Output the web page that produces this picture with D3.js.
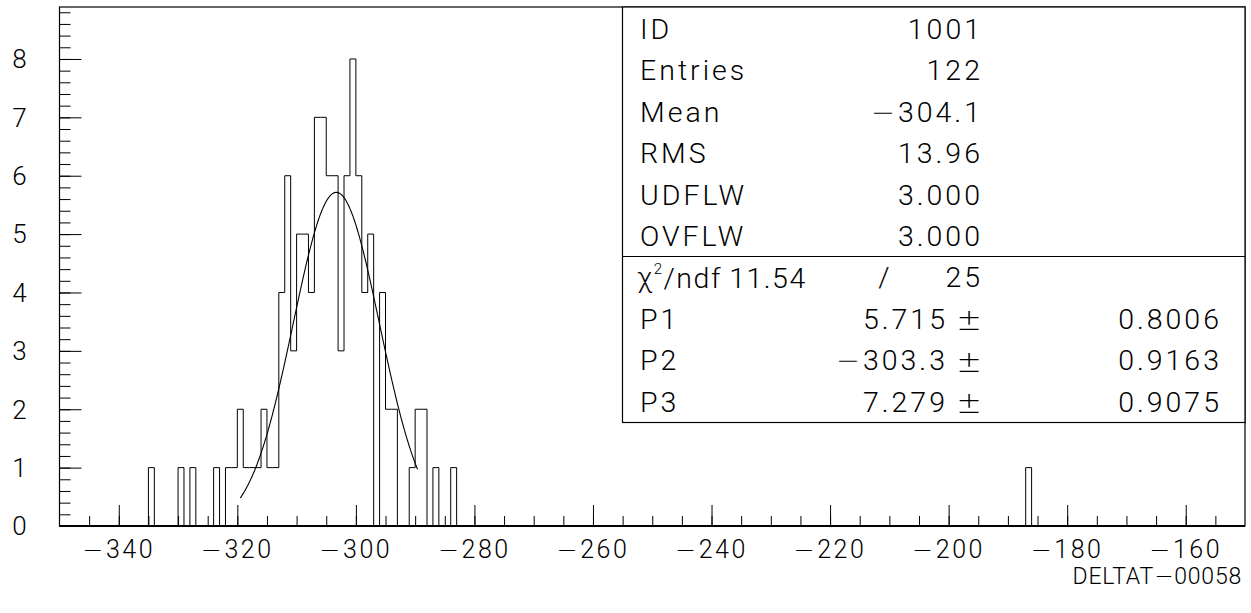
<!DOCTYPE html>
<html>
<head>
<meta charset="utf-8">
<script src="https://cdn.jsdelivr.net/npm/d3@7"></script>
<style>
  html, body { margin: 0; padding: 0; background: #fff; }
  svg { display: block; }
  text { font-family: "Roboto", "DejaVu Sans", sans-serif; font-weight: 300; fill: #000; }
  tspan.minus, text.pm { font-family: "DejaVu Sans", sans-serif; font-weight: 200; }
</style>
</head>
<body>
<svg id="chart" width="1251" height="613"></svg>
<script>
// ---- Data ----
const xDomain = [-350, -150];
const yDomain = [0, 8.89];
const binWidth = 1;
// lower edges of non-empty bins and their contents
const binStarts = [-335, -330, -328, -324, -322, -321, -320, -319, -318, -317, -316, -315, -314,
  -313, -312, -311, -310, -309, -308, -307, -306, -305, -304, -303, -302, -301, -300, -299, -298,
  -296, -295, -294, -291, -290, -289, -287, -284, -187];
const binCounts = [1, 1, 1, 1, 1, 1, 2, 1, 1, 1, 2, 1, 1,
  4, 6, 3, 5, 5, 4, 7, 7, 6, 6, 3, 6, 8, 6, 4, 5,
  4, 2, 2, 1, 2, 2, 1, 1, 1];
const xTickLabels = [-340, -320, -300, -280, -260, -240, -220, -200, -180, -160];
const yTickLabels = [0, 1, 2, 3, 4, 5, 6, 7, 8];
// fit parameters (gaussian) and fit range
const fitParams = { P1: 5.715, P2: -303.3, P3: 7.279 };
const fitRange = [-319.5, -289.6];
// statistics box
const statLabels = ["ID", "Entries", "Mean", "RMS", "UDFLW", "OVFLW"];
const statValues = ["1001", "122", "\u2212304.1", "13.96", "3.000", "3.000"];
const chiValue = "11.54";
const ndfValue = "25";
const parLabels = ["P1", "P2", "P3"];
const parValues = ["5.715", "\u2212303.3", "7.279"];
const parErrors = ["0.8006", "0.9163", "0.9075"];
const xTitle = "DELTAT\u221200058";

// ---- Layout ----
const L = 59.5, R = 1245, T = 7, B = 526;
const svg = d3.select("#chart");
const x = d3.scaleLinear().domain(xDomain).range([L, R]);
const y = d3.scaleLinear().domain(yDomain).range([B, T]);

// write a string into a text element, drawing the minus sign with a wide glyph
function setText(sel, str) {
  sel.each(function(d) {
    const s = typeof str === "function" ? str(d) : str;
    const t = d3.select(this);
    s.split(/(\u2212)/).filter(p => p.length).forEach(p => {
      const ts = t.append("tspan").text(p);
      if (p === "\u2212") ts.attr("class", "minus");
    });
  });
}

// full bin array
const nb = Math.round((xDomain[1] - xDomain[0]) / binWidth);
const counts = new Array(nb).fill(0);
binStarts.forEach((s, i) => { counts[Math.round((s - xDomain[0]) / binWidth)] = binCounts[i]; });
const pts = counts.map((c, i) => [xDomain[0] + i * binWidth, c]);
pts.push([xDomain[1], 0]);

// histogram outline
const line = d3.line().x(d => x(d[0])).y(d => y(d[1])).curve(d3.curveStepAfter);
svg.append("path").attr("d", line(pts)).attr("fill", "none")
  .attr("stroke", "#000").attr("stroke-width", 1);

// fit curve
const gauss = v => fitParams.P1 * Math.exp(-0.5 * Math.pow((v - fitParams.P2) / fitParams.P3, 2));
const fx = d3.range(fitRange[0], fitRange[1] + 1e-9, 0.1);
const fitPts = fx.map(v => [v, gauss(v)]);
svg.append("path").attr("d", d3.line().x(d => x(d[0])).y(d => y(d[1]))(fitPts))
  .attr("fill", "none").attr("stroke", "#000").attr("stroke-width", 1.1);

// axes ticks (inside)
const xMinor = d3.range(-345, -150, 5);
const xAxisMinor = d3.axisBottom(x).tickValues(xMinor).tickSize(-10).tickFormat("");
const xAxisMajor = d3.axisBottom(x).tickValues(xTickLabels).tickSize(-21).tickFormat("");
const gxm = svg.append("g").attr("transform", `translate(0,${B})`).call(xAxisMinor);
const gxM = svg.append("g").attr("transform", `translate(0,${B})`).call(xAxisMajor);
const yMinor = d3.range(0.2, 8.85, 0.2);
const yAxisMinor = d3.axisLeft(y).tickValues(yMinor).tickSize(-11).tickFormat("");
const yAxisMajor = d3.axisLeft(y).tickValues(yTickLabels).tickSize(-22).tickFormat("");
const gym = svg.append("g").attr("transform", `translate(${L},0)`).call(yAxisMinor);
const gyM = svg.append("g").attr("transform", `translate(${L},0)`).call(yAxisMajor);
[gxm, gxM, gym, gyM].forEach(g => {
  g.select(".domain").remove();
  g.selectAll("line").attr("stroke", "#000").attr("stroke-width", 1);
});

// frame
svg.append("rect").attr("x", L).attr("y", T).attr("width", R - L).attr("height", B - T)
  .attr("fill", "none").attr("stroke", "#000").attr("stroke-width", 1.2);
svg.append("line").attr("x1", L).attr("x2", R).attr("y1", B).attr("y2", B)
  .attr("stroke", "#000").attr("stroke-width", 2);

// tick labels
svg.append("g").selectAll("text").data(xTickLabels).join("text")
  .attr("x", d => x(d)).attr("y", 549).attr("dy", "0.36em")
  .attr("text-anchor", "middle").attr("font-size", 25).attr("letter-spacing", 2.5)
  .call(setText, d => (d < 0 ? "\u2212" : "") + Math.abs(d));
svg.append("g").selectAll("text").data(yTickLabels).join("text")
  .attr("x", 19.5).attr("y", d => y(d)).attr("dy", "0.36em")
  .attr("text-anchor", "middle").attr("font-size", 26)
  .text(d => d);
svg.append("text").attr("x", 1242).attr("y", 576).attr("dy", "0.36em")
  .attr("text-anchor", "end").attr("font-size", 23).attr("letter-spacing", 0.8)
  .call(setText, xTitle);

// stats box
const bx = 622.5, sep = 256.5, bb = 422.5;
svg.append("rect").attr("x", bx).attr("y", T).attr("width", R - bx).attr("height", bb - T)
  .attr("fill", "#fff").attr("stroke", "#000").attr("stroke-width", 1.2);
svg.append("line").attr("x1", bx).attr("x2", R).attr("y1", sep).attr("y2", sep)
  .attr("stroke", "#000").attr("stroke-width", 1.2);
const rowY = i => 28.8 + 41.4 * i;
const fs = 28.5, ls = 3;
const box = svg.append("g").attr("font-size", fs);
statLabels.forEach((t, i) => {
  box.append("text").attr("x", 640).attr("y", rowY(i)).attr("dy", "0.36em")
    .attr("letter-spacing", ls).text(t);
  box.append("text").attr("x", 983).attr("y", rowY(i)).attr("dy", "0.36em")
    .attr("text-anchor", "end").attr("letter-spacing", ls).call(setText, statValues[i]);
});
const chiT = box.append("text").attr("x", 637).attr("y", rowY(6)).attr("dy", "0.36em")
  .attr("letter-spacing", 1.5);
chiT.append("tspan").text("\u03C7");
chiT.append("tspan").attr("font-size", 15).attr("dy", "-0.9em").text("2");
chiT.append("tspan").attr("dy", "0.5em").text("/ndf\u2009" + chiValue);
box.append("text").attr("x", 884).attr("y", rowY(6)).attr("dy", "0.36em")
  .attr("text-anchor", "middle").text("/");
box.append("text").attr("x", 983).attr("y", rowY(6)).attr("dy", "0.36em")
  .attr("text-anchor", "end").attr("letter-spacing", ls).text(ndfValue);
parLabels.forEach((t, i) => {
  const yy = rowY(7 + i);
  box.append("text").attr("x", 640).attr("y", yy).attr("dy", "0.36em")
    .attr("letter-spacing", ls).text(t);
  box.append("text").attr("x", 948).attr("y", yy).attr("dy", "0.36em")
    .attr("text-anchor", "end").attr("letter-spacing", ls).call(setText, parValues[i]);
  box.append("text").attr("class", "pm").attr("x", 969).attr("y", yy + 1).attr("dy", "0.36em")
    .attr("text-anchor", "middle").attr("font-size", 30).text("\u00B1");
  box.append("text").attr("x", 1222).attr("y", yy).attr("dy", "0.36em")
    .attr("text-anchor", "end").attr("letter-spacing", ls).text(parErrors[i]);
});
</script>
</body>
</html>
